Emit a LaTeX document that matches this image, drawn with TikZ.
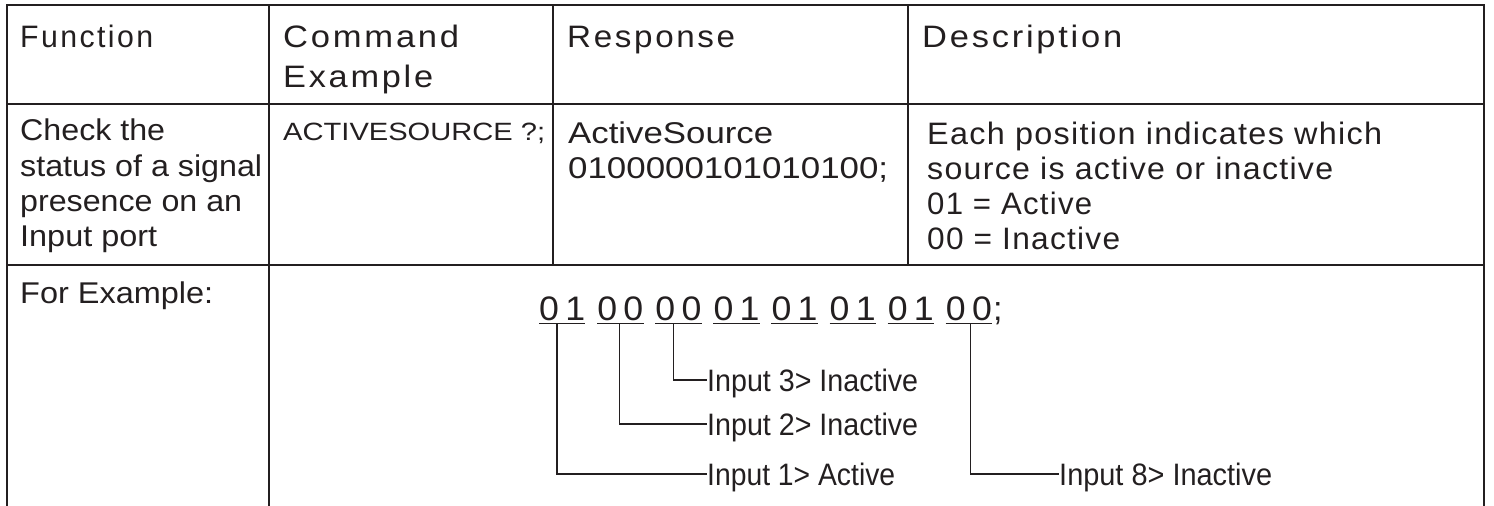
\documentclass[tikz,border=0pt]{standalone}
\usepackage{fontspec}
\setmainfont{Liberation Sans}
\newfontfamily\trkfont[LetterSpace=8]{Liberation Sans}
\newfontfamily\dscfont[LetterSpace=4]{Liberation Sans}
\usetikzlibrary{calc}
\definecolor{ink}{HTML}{231F20}
\newsavebox\fwbox
\newcommand\fw[2]{\sbox\fwbox{#2}\pgfmathsetmacro\fwsx{#1/\wd\fwbox}\scalebox{\fwsx}[1]{\usebox\fwbox}}
\begin{document}
\begin{tikzpicture}[x=1pt,y=-1pt,
  grid/.style={draw=ink,line width=1.8pt},
  txt/.style={anchor=base west,inner sep=0pt,text=ink},
  hd/.style={txt,font=\trkfont\fontsize{31}{36}\selectfont},
  bd/.style={txt,font=\fontsize{30}{36}\selectfont},
  sm/.style={txt,font=\fontsize{25}{30}\selectfont},
  ds/.style={txt,font=\dscfont\fontsize{31}{36}\selectfont},
  grp/.style={anchor=base west,inner sep=0pt,text depth=0pt,text=ink,font=\fontsize{34}{40}\selectfont},
  lbl/.style={anchor=west,inner sep=0pt,text height=22pt,text depth=0pt,text=ink,font=\fontsize{31}{36}\selectfont},
  link/.style={draw=ink,line width=1.3pt},
  uline/.style={draw=ink,line width=1.3pt}]
\useasboundingbox (0,0) rectangle (1494,506);
% table grid
\draw[grid] (7,506) -- (7,5) -- (1484,5) -- (1484,506);
\draw[grid] (7,104) -- (1484,104);
\draw[grid] (7,265) -- (1484,265);
\draw[grid] (269,5) -- (269,506);
\draw[grid] (553,5) -- (553,265);
\draw[grid] (908,5) -- (908,265);
% headers
\node[hd] (hF) at (20,47) {\fw{133}{Function}};
\node[hd] (hC1) at (283,47) {\fw{176}{Command}};
\node[hd] (hC2) at (283,87) {\fw{150}{Example}};
\node[hd] (hR) at (567,47) {\fw{168}{Response}};
\node[hd] (hD) at (922,47) {\fw{200}{Description}};
% body row
\node[bd] (f1) at (20,140) {\fw{145}{Check the}};
\node[bd] (f2) at (20,176) {\fw{242}{status of a signal}};
\node[bd] (f3) at (20,211) {\fw{222}{presence on an}};
\node[bd] (f4) at (20,246) {\fw{137}{Input port}};
\node[sm] (c1) at (283,140) {\fw{262}{ACTIVESOURCE ?;}};
\node[bd] (r1) at (568,143) {\fw{205}{ActiveSource}};
\node[bd] (r2) at (568,178) {\fw{320}{0100000101010100;}};
\node[ds] (d1) at (927,144) {\fw{455}{Each position indicates which}};
\node[ds] (d2) at (927,179) {\fw{406}{source is active or inactive}};
\node[ds] (d3) at (927,214) {\fw{165}{01 = Active}};
\node[ds] (d4) at (927,249) {\fw{193}{00 = Inactive}};
% example row
\node[bd] (fe) at (20,303) {\fw{193}{For Example:}};
\foreach \a/\b [count=\i] in {0/1,0/0,0/0,0/1,0/1,0/1,0/1,0/0}
  \node[grp] (g\i) at ({539+58.1*(\i-1)},320) {\fw{46}{\a\hspace{6pt}\b}};
\node[grp] (sc) at (993,320) {;};
\foreach \i in {1,...,8}
  \draw[uline] ($(g\i.south west)+(0,3)$) -- ($(g\i.south east)+(0,3)$);
\node[lbl] (l3) at (707,380) {\fw{211}{Input 3> Inactive}};
\node[lbl] (l2) at (707,424) {\fw{211}{Input 2> Inactive}};
\node[lbl] (l1) at (707,474) {\fw{188}{Input 1> Active}};
\node[lbl] (l8) at (1059,474) {\fw{213}{Input 8> Inactive}};
\draw[link] ($(g1.south west)!0.39!(g1.south east)+(0,3)$) |- (l1.west);
\draw[link] ($(g2.south west)!0.48!(g2.south east)+(0,3)$) |- (l2.west);
\draw[link] ($(g3.south west)!0.39!(g3.south east)+(0,3)$) |- (l3.west);
\draw[link] ($(g8.south west)!0.54!(g8.south east)+(0,3)$) |- (l8.west);
\end{tikzpicture}
\end{document}
